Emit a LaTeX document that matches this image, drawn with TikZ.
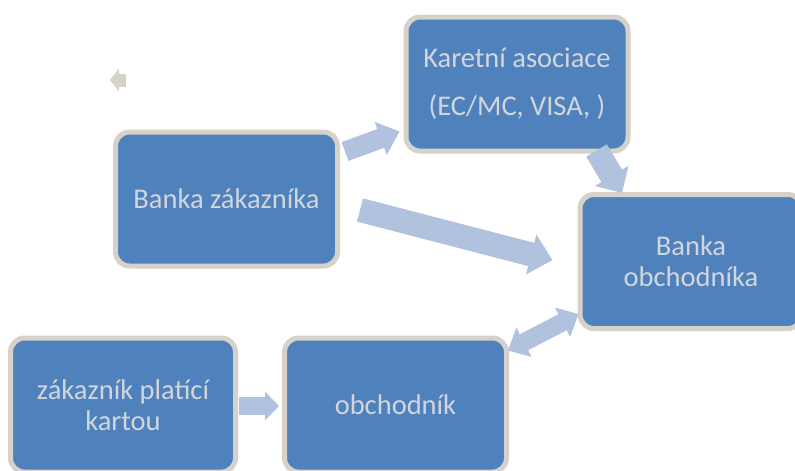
\documentclass[tikz,border=0pt]{standalone}
\usepackage{fontspec}
\setmainfont{Carlito}
\usetikzlibrary{arrows.meta}
\definecolor{boxfill}{RGB}{79,129,189}
\definecolor{boxline}{RGB}{214,209,201}
\definecolor{boxtext}{RGB}{210,214,220}
\definecolor{flowfill}{RGB}{176,194,222}

\begin{document}
\begin{tikzpicture}[x=1pt,y=-1pt,
  party/.style={draw=boxline,line width=5pt,fill=boxfill,rounded corners=14pt,
    minimum width=222pt,minimum height=134pt,inner sep=0pt,align=center,
    text=boxtext,font=\fontsize{28.5}{31}\selectfont},
  flow/.style={flowfill}]
\useasboundingbox (0,0) rectangle (795,471);
\clip (0,0) rectangle (795,471);

\node[party] (ka) at (517,84) {Karetní asociace\\[17pt](EC/MC, VISA, )};
\node[party] (bz) at (226.5,199) {Banka zákazníka};
\node[party] (bo) at (691,261.5) {Banka\\obchodníka};
\node[party,minimum width=225pt] (zk) at (123,405) {zákazník platící\\kartou};
\node[party] (ob) at (395.5,405) {obchodník};

\draw[flow,line width=20pt,-{Triangle[length=20pt,width=34pt]}] ([shift={(5,22)}]bz.north east) -- ([shift={(-4,-22)}]ka.south west);
\draw[flow,line width=24pt,-{Triangle[length=22pt,width=40pt]}] ([shift={(20,11)}]bz.east) -- ([shift={(-25,-1.5)}]bo.west);
\draw[flow,line width=24pt,-{Triangle[length=20pt,width=38pt]}] ([shift={(-34,-3)}]ka.south east) -- ([shift={(-69,1)}]bo.north);
\draw[flow,line width=18pt,{Triangle[length=18pt,width=32pt]}-{Triangle[length=18pt,width=32pt]}] ([shift={(-1,15)}]ob.north east) -- ([shift={(1,-17)}]bo.south west);
\draw[flow,line width=18pt,-{Triangle[length=14pt,width=28pt]}] ([shift={(1,1)}]zk.east) -- ([shift={(-3,1)}]ob.west);

\coordinate (strayA) at (126,80);
\coordinate (strayB) at (110,80);
\draw[boxline,line width=13pt,-{Triangle[length=9pt,width=22pt]}] (strayA) -- (strayB);
\end{tikzpicture}
\end{document}
